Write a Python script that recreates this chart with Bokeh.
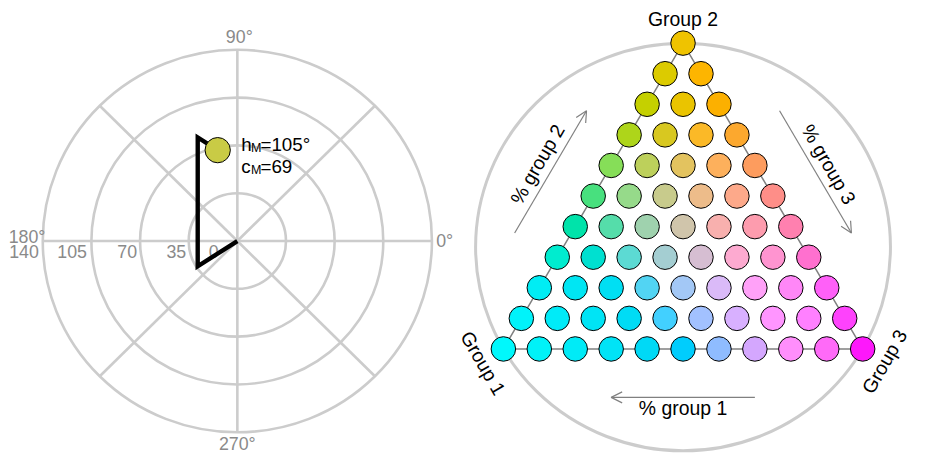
import math
from bokeh.plotting import figure
from bokeh.models import Range1d, Arrow, OpenHead
from bokeh.core.properties import value
from bokeh.embed import file_html
from bokeh.resources import INLINE

# ---------------- data: left (polar) panel ----------------
ring_values = [35, 70, 105, 140]
radial_tick_values = [0, 35, 70, 105, 140]
radial_tick_labels = ["0", "35", "70", "105", "140"]
spoke_angles = [0, 45, 90, 135, 180, 225, 270, 315]
angle_label_values = [0, 90, 180, 270]
angle_labels = ["0°", "90°", "180°", "270°"]
path_hue = [0, 213, 110.6, 102]
path_chroma = [0, 34, 81, 68]
mean_point_hue = 102
mean_point_chroma = 68
mean_hue_label = "105°"
mean_chroma_label = "69"
mean_color = "#C9CB45"

# ---------------- data: right (ternary) panel ----------------
n_steps = 10
group_labels = ["Group 1", "Group 2", "Group 3"]
axis_labels = ["% group 1", "% group 2", "% group 3"]
row_colors = [
    ["#EFC300"],
    ["#DCCB00", "#FDB500"],
    ["#C5D000", "#EAC400", "#FCB000"],
    ["#AED51A", "#D8C820", "#FBB927", "#FCA82E"],
    ["#86DE58", "#BDD05B", "#E3C35F", "#FDB05C", "#FD9C5E"],
    ["#48E07E", "#96DA8A", "#C8CB8C", "#EDBC8A", "#FDA98A", "#FE8E88"],
    ["#00E3AA", "#55DDAA", "#9FD2AE", "#D0C5AB", "#F8B0AE", "#FD9CAE", "#FF80AF"],
    ["#00ECCF", "#00E0D0", "#5CDAD3", "#A4CED2", "#D6BED2", "#FDAAD0", "#FF94D0", "#FF70CF"],
    ["#00EDF4", "#00E6F3", "#00DFF3", "#52D4F3", "#A3C8F6", "#DABAF8", "#FFA1F8", "#FF87F7", "#FF60F8"],
    ["#00F3FA", "#00EBF8", "#00E4F5", "#00DCF5", "#42D0FF", "#A2C1FF", "#D8B0FF", "#FF95FF", "#FF80FF", "#FE42FC"],
    ["#00F8FC", "#00F2F8", "#00EBF7", "#00E3F6", "#00D9F6", "#00CDFD", "#8FBCFF", "#D4A7FE", "#FF8EFC", "#FF6AF8", "#FD18FB"],
]

FONT = value("Liberation Sans")
GRID = "#CCCCCC"
LABEL_GREY = "#8A8A8A"

# One canvas; data units span a 928 x 470 layout space (y up)
W, H = 912, 454
SPACE_W, SPACE_H = 928, 470
p = figure(width=W, height=H, output_backend="svg", toolbar_location=None,
           x_range=Range1d(0, SPACE_W), y_range=Range1d(0, SPACE_H),
           min_border=0, outline_line_color=None)
p.axis.visible = False
p.grid.visible = False

# ================= left panel (polar) =================
CX, CY = 241, SPACE_H - 249
S = 198 / 140.0  # layout units per chroma unit


def pol(h, c):
    return CX + c * S * math.cos(math.radians(h)), CY + c * S * math.sin(math.radians(h))


p.ellipse(x=[CX] * len(ring_values), y=[CY] * len(ring_values),
          width=[2 * v * S for v in ring_values], height=[2 * v * S for v in ring_values],
          fill_color=None, line_color=GRID, line_width=2.6)
rmax = max(ring_values)
ends = [pol(a, rmax) for a in spoke_angles]
p.segment(x0=[CX] * len(spoke_angles), y0=[CY] * len(spoke_angles),
          x1=[e[0] for e in ends], y1=[e[1] for e in ends],
          line_color=GRID, line_width=2.6)

# angle labels
lab_r = {0: 211, 90: 211, 180: 211, 270: 210}
adj = {180: (-3, 4.5), 90: (2, 0)}
ax_, ay_ = [], []
for a in angle_label_values:
    dx, dy = adj.get(a, (0, 0))
    ax_.append(CX + lab_r[a] * math.cos(math.radians(a)) + dx)
    ay_.append(CY + lab_r[a] * math.sin(math.radians(a)) + dy)
p.text(x=ax_, y=ay_, text=angle_labels, text_align="center", text_baseline="middle",
       text_font=FONT, text_font_size="17.8px", text_color=LABEL_GREY)

# radial labels
rad_off = [-19, -2.5, -3, -4.5, -4]
p.text(x=[pol(180, v)[0] + o for v, o in zip(radial_tick_values, rad_off)],
       y=[CY - 10.7] * len(radial_tick_values), text=radial_tick_labels,
       text_align="right", text_baseline="middle",
       text_font=FONT, text_font_size="17.8px", text_color=LABEL_GREY)

# path and mean point
path = [pol(h, c) for h, c in zip(path_hue, path_chroma)]
p.line([q[0] for q in path], [q[1] for q in path], line_color="black",
       line_width=4.4, line_join="miter")
mx, my = pol(mean_point_hue, mean_point_chroma)
p.scatter([mx], [my], size=25.3, fill_color=mean_color, line_color="black", line_width=1)

tx = mx + 24
for yb, letter, rest in [(my + 6, "h", "=" + mean_hue_label), (my - 16.8, "c", "=" + mean_chroma_label)]:
    p.text(x=[tx], y=[yb], text=[letter], text_align="left", text_baseline="alphabetic",
           text_font=FONT, text_font_size="18.8px", text_color="black")
    p.text(x=[tx + 10], y=[yb - 3.5], text=["M"], text_align="left",
           text_baseline="alphabetic", text_font=FONT, text_font_size="12.5px", text_color="black")
    p.text(x=[tx + 19.5], y=[yb], text=[rest], text_align="left", text_baseline="alphabetic",
           text_font=FONT, text_font_size="18.8px", text_color="black")

# ================= right panel (ternary) =================
L = 365.6                     # layout units per unit side
R = 1 / math.sqrt(3)
cen = (0.5, 0.5 / math.sqrt(3))
TX, TY = 694.5, SPACE_H - 255.2  # centroid position


def ter(x, y):
    return TX + (x - cen[0]) * L, TY + (y - cen[1]) * L


V1 = (0.0, 0.0)                     # group 1
V2 = (0.5, math.sqrt(3) / 2)        # group 2
V3 = (1.0, 0.0)                     # group 3

p.ellipse(x=[TX], y=[TY], width=2 * R * L, height=2 * R * L,
          fill_color=None, line_color=GRID, line_width=3)
tri = [ter(*v) for v in (V1, V2, V3, V1)]
p.line([q[0] for q in tri], [q[1] for q in tri], line_color="#808080", line_width=1.5)

xs, ys, cols = [], [], []
for r_i, rc in enumerate(row_colors):
    p2_share = (n_steps - r_i) / n_steps
    for c_i, col in enumerate(rc):
        p3_share = c_i / n_steps
        X, Y = ter(p3_share + p2_share / 2, p2_share * math.sqrt(3) / 2)
        xs.append(X)
        ys.append(Y)
        cols.append(col)
p.scatter(xs, ys, size=24.5, fill_color=cols, line_color="black", line_width=1)

# axis arrows and labels
edges = {"% group 2": (V1, V2), "% group 3": (V2, V3), "% group 1": (V3, V1)}
lab_off = {"% group 2": 0.18, "% group 3": 0.18, "% group 1": 0.167}
for lab in axis_labels:
    A, B = edges[lab]
    d = (B[0] - A[0], B[1] - A[1])
    n = (-d[1], d[0])
    off = 0.137
    s0 = ter(A[0] + 0.3 * d[0] + off * n[0], A[1] + 0.3 * d[1] + off * n[1])
    s1 = ter(A[0] + 0.7 * d[0] + off * n[0], A[1] + 0.7 * d[1] + off * n[1])
    p.add_layout(Arrow(end=OpenHead(size=11, line_color="#808080", line_width=1.2),
                       x_start=s0[0], y_start=s0[1], x_end=s1[0], y_end=s1[1],
                       line_color="#808080", line_width=1.2))
    ang = math.atan2(d[1], d[0])
    if ang > math.pi / 2:
        ang -= math.pi
    elif ang < -math.pi / 2:
        ang += math.pi
    lo = lab_off[lab]
    lx, ly = ter(A[0] + 0.5 * d[0] + lo * n[0], A[1] + 0.5 * d[1] + lo * n[1])
    p.text(x=[lx], y=[ly], text=[lab], angle=ang, text_align="center", text_baseline="middle",
           text_font=FONT, text_font_size="19.4px", text_color="black")

# corner labels
corner = [(V1, -20.5, -14.5, -60), (V2, 0, 25, 0), (V3, 22, -13, 60)]
for lab, (V, dxp, dyp, a) in zip(group_labels, corner):
    vx, vy = ter(*V)
    p.text(x=[vx + dxp], y=[vy + dyp], text=[lab], angle=math.radians(a),
           text_align="center", text_baseline="middle",
           text_font=FONT, text_font_size="19.4px", text_color="black")

open("out.html", "w").write(file_html(p, INLINE))
